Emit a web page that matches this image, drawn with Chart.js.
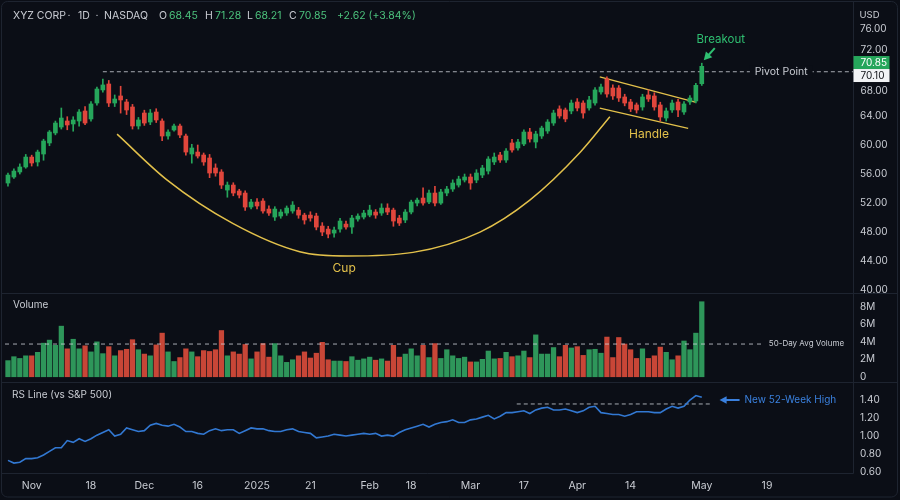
<!DOCTYPE html>
<html>
<head>
<meta charset="utf-8">
<title>XYZ CORP - Cup and Handle</title>
<script src="https://cdn.jsdelivr.net/npm/chart.js@4.4.1/dist/chart.umd.min.js"></script>
<style>
  html, body { margin: 0; padding: 0; background: #0b0e16; }
  #wrap { width: 900px; height: 500px; }
</style>
</head>
<body>
<div id="wrap"><canvas id="chart" width="900" height="500"></canvas></div>
<script>
// daily candles, Nov -> May
const opens = [
  54.76, 55.59, 56.28, 56.97, 58.34, 57.66, 58.76, 60.28, 61.66, 62.48,
  63.31, 62.90, 63.31, 64.69, 63.59, 65.79, 67.59, 68.41, 65.79, 66.76,
  65.93, 65.24, 62.62, 64.41, 63.17, 64.55, 63.31, 61.24, 62.07, 62.62,
  61.24, 58.76, 59.03, 58.62, 58.21, 56.83, 56.28, 53.79, 54.48, 53.66,
  53.38, 51.45, 52.14, 52.28, 51.17, 50.07, 50.21, 50.62, 50.90, 51.03,
  50.34, 50.34, 50.21, 48.83, 48.41, 47.86, 48.41, 49.10, 48.69, 49.79,
  50.07, 50.34, 50.76, 50.62, 51.31, 51.03, 49.93, 49.66, 50.76, 52.00,
  52.69, 52.14, 53.38, 52.00, 53.38, 53.93, 54.48, 55.17, 55.59, 55.17,
  55.86, 56.41, 57.66, 58.62, 57.93, 60.28, 59.59, 60.14, 61.79, 60.41,
  61.24, 61.93, 63.03, 64.97, 64.83, 64.69, 65.93, 65.79, 65.10, 65.79,
  67.31, 69.10, 67.86, 67.86, 66.62, 65.93, 65.52, 65.24, 66.90, 66.76,
  65.52, 63.72, 64.83, 65.93, 64.55, 65.93, 66.07, 68.45
];
const highs = [
  56.14, 56.70, 57.40, 58.70, 58.60, 59.30, 60.80, 62.00, 63.30, 65.10,
  63.90, 63.90, 64.90, 65.30, 66.00, 68.00, 69.10, 68.90, 66.90, 68.10,
  66.30, 65.60, 63.80, 64.80, 64.90, 65.00, 63.60, 62.10, 62.90, 62.90,
  61.50, 60.10, 60.00, 58.90, 58.70, 57.40, 56.60, 54.90, 54.80, 53.90,
  53.70, 52.50, 52.60, 52.60, 51.60, 51.50, 51.10, 51.60, 52.20, 51.40,
  50.60, 50.80, 50.60, 49.30, 48.80, 48.70, 49.90, 49.50, 50.30, 50.50,
  51.00, 51.70, 51.10, 51.90, 51.90, 51.30, 50.30, 51.10, 52.40, 52.70,
  54.10, 53.80, 54.30, 53.90, 54.30, 55.20, 55.70, 56.00, 56.00, 56.60,
  57.20, 58.40, 58.90, 59.00, 59.50, 60.80, 60.80, 62.10, 62.30, 61.90,
  62.60, 63.50, 64.80, 65.40, 65.10, 66.20, 66.40, 66.10, 66.70, 67.90,
  68.40, 69.40, 68.30, 68.20, 67.00, 66.30, 65.80, 67.00, 67.60, 67.20,
  65.90, 65.10, 66.20, 66.30, 66.00, 66.80, 68.50, 71.28
];
const lows = [
  54.34, 55.40, 56.00, 56.80, 57.10, 57.10, 57.90, 59.90, 61.40, 62.20,
  62.10, 61.90, 62.60, 62.80, 63.30, 65.50, 67.30, 65.30, 65.30, 64.40,
  64.20, 62.20, 62.20, 62.70, 62.80, 63.10, 60.60, 60.80, 61.90, 61.00,
  58.60, 57.50, 58.20, 57.20, 55.50, 55.70, 54.00, 52.80, 53.00, 52.70,
  51.00, 51.20, 51.20, 50.60, 50.30, 49.60, 49.90, 50.30, 50.60, 49.90,
  49.10, 49.50, 48.30, 47.50, 47.20, 47.30, 48.00, 48.40, 47.80, 49.50,
  49.80, 50.10, 49.90, 50.30, 50.40, 48.80, 48.90, 49.30, 50.50, 51.60,
  51.70, 51.90, 51.60, 51.80, 53.00, 53.60, 54.20, 54.90, 53.90, 54.80,
  55.50, 56.00, 57.30, 57.60, 57.60, 59.00, 59.30, 59.90, 60.40, 59.60,
  60.90, 61.60, 62.70, 63.70, 63.20, 64.30, 64.70, 63.70, 64.80, 65.50,
  67.00, 66.60, 66.30, 66.00, 65.40, 64.60, 64.40, 64.80, 66.00, 64.80,
  63.30, 63.30, 64.50, 63.90, 64.20, 65.60, 65.80, 68.21
];
const closes = [
  55.86, 56.41, 56.97, 58.34, 57.52, 59.03, 60.55, 61.79, 63.03, 63.72,
  62.76, 63.45, 64.55, 63.03, 65.66, 67.72, 68.28, 65.79, 66.34, 66.21,
  64.83, 62.62, 63.45, 63.03, 64.41, 63.45, 61.24, 61.79, 62.62, 61.38,
  59.03, 59.59, 58.48, 57.66, 56.14, 56.14, 54.48, 54.48, 53.38, 53.10,
  51.45, 52.14, 51.59, 50.90, 50.62, 51.17, 50.76, 51.31, 51.72, 50.34,
  49.66, 49.93, 48.69, 48.00, 47.72, 48.28, 49.52, 48.69, 49.93, 50.21,
  50.62, 51.03, 50.34, 51.31, 50.76, 49.52, 49.24, 50.76, 52.14, 52.41,
  52.00, 53.38, 52.00, 53.52, 53.93, 54.76, 55.31, 55.59, 54.76, 56.14,
  56.83, 58.07, 58.34, 57.93, 59.17, 59.31, 60.41, 61.79, 60.83, 61.52,
  62.34, 63.17, 64.41, 64.00, 63.59, 65.79, 65.10, 64.41, 66.21, 67.59,
  68.00, 67.03, 66.76, 66.48, 65.79, 64.97, 64.83, 66.62, 66.34, 65.24,
  63.86, 64.69, 65.79, 64.83, 65.66, 66.48, 68.23, 70.85
];
// volume in millions of shares
const volumes = [
  1.85, 2.30, 2.10, 2.40, 2.40, 2.80, 3.85, 4.20, 3.60, 5.80,
  3.20, 4.30, 3.20, 3.55, 2.85, 4.00, 2.65, 3.45, 2.40, 3.00,
  3.15, 4.25, 3.10, 2.60, 2.40, 3.65, 5.00, 2.85, 1.75, 2.20,
  3.20, 2.85, 2.30, 3.00, 2.90, 3.10, 5.30, 2.40, 2.85, 2.60,
  3.70, 2.05, 2.85, 3.80, 2.25, 3.80, 2.40, 1.65, 1.95, 2.40,
  2.85, 2.15, 2.70, 3.95, 1.95, 1.80, 1.80, 1.75, 2.30, 1.90,
  2.05, 2.25, 1.90, 2.05, 1.80, 3.60, 2.25, 2.60, 3.20, 2.40,
  3.60, 2.20, 3.80, 2.10, 3.10, 2.40, 2.10, 2.25, 1.70, 1.70,
  2.00, 2.95, 2.05, 2.10, 2.80, 2.30, 2.40, 2.95, 2.20, 4.80,
  2.60, 2.60, 3.35, 2.30, 3.60, 3.30, 3.45, 2.45, 3.10, 3.15,
  2.70, 4.55, 2.20, 4.50, 3.75, 3.10, 2.10, 3.20, 2.10, 2.40,
  3.40, 2.80, 1.95, 2.40, 4.10, 3.10, 5.00, 8.60
];
// relative strength vs S&P 500
const rsLine = [
  0.73, 0.70, 0.71, 0.75, 0.75, 0.76, 0.79, 0.83, 0.87, 0.87,
  0.95, 0.93, 0.97, 0.94, 0.97, 1.01, 1.04, 1.07, 1.00, 1.02,
  1.09, 1.07, 1.05, 1.06, 1.12, 1.14, 1.12, 1.11, 1.13, 1.10,
  1.05, 1.05, 1.03, 1.02, 1.06, 1.08, 1.06, 1.07, 1.07, 1.03,
  1.06, 1.09, 1.08, 1.08, 1.06, 1.05, 1.05, 1.07, 1.08, 1.05,
  1.04, 1.03, 0.98, 0.99, 1.00, 1.02, 1.01, 1.00, 1.01, 1.02,
  1.03, 1.02, 1.03, 1.00, 1.01, 1.00, 1.04, 1.07, 1.09, 1.11,
  1.13, 1.10, 1.13, 1.15, 1.16, 1.18, 1.15, 1.15, 1.18, 1.19,
  1.21, 1.23, 1.19, 1.22, 1.26, 1.26, 1.27, 1.28, 1.25, 1.29,
  1.31, 1.32, 1.29, 1.29, 1.30, 1.28, 1.26, 1.28, 1.32, 1.33,
  1.26, 1.25, 1.24, 1.24, 1.22, 1.24, 1.27, 1.27, 1.27, 1.26,
  1.26, 1.30, 1.33, 1.31, 1.33, 1.40, 1.45, 1.43
];

// x axis: one slot per trading day, plus empty future slots
const lastSlot = 142.5;
const tickAt = [4, 14, 23, 32, 42, 51, 61, 68, 78, 87, 96, 105, 117, 128];
const tickText = ['Nov', '18', 'Dec', '16', '2025', '21', 'Feb', '18', 'Mar', '17', 'Apr', '14', 'May', '19'];
const priceTicks = [40, 44, 48, 52, 56, 60, 64, 68, 72, 76];
const volumeTicks = [0, 2, 4, 6, 8];
const rsTicks = [0.6, 0.8, 1.0, 1.2, 1.4];

// pattern annotations (day index, value)
const pivotPrice = 70.10;
const pivotSpan = [16, lastSlot];
const avgVolume = 3.75;
const avgSpan = [-0.5, 127.3];
const rsPrevHigh = 1.356;
const rsHighSpan = [85.8, 118.7];
const cupPoints = [[18.4, 61.5], [26.8, 55.2], [37.9, 49.2], [49.2, 45.3], [57.2, 44.7],
                   [68.3, 45.2], [79.6, 48.0], [88.0, 52.4], [96.5, 59.0], [101.5, 63.9]];
const handleUpper = [[99.8, 69.4], [115.9, 65.9]];
const handleLower = [[99.8, 65.1], [114.7, 62.3]];

const colors = {
    bg: '#0b0e16',
    frame: '#1e2430',
    text: '#c9ccd3',
    up: '#26a65b',
    down: '#e0463c',
    upVol: '#2e965a',
    downVol: '#c84637',
    quote: '#4cc27d',
    cup: '#e3c14b',
    breakout: '#2fbf71',
    rs: '#3278d2',
    rsText: '#3a80de',
    dash: 'rgba(206,210,218,0.8)',
};
const fontFamily = 'Inter, "Noto Sans", sans-serif';

const isUp = opens.map((o, i) => closes[i] >= o);
const pts = pairs => pairs.map(p => ({ x: p[0], y: p[1] }));

function text(ctx, str, x, y, color, size, align) {
    ctx.font = size + 'px ' + fontFamily;
    ctx.fillStyle = color;
    ctx.textAlign = align || 'left';
    ctx.textBaseline = 'middle';
    ctx.fillText(str, x, y);
}

function arrow(ctx, x1, y1, x2, y2, color, width, head) {
    const a = Math.atan2(y2 - y1, x2 - x1);
    ctx.strokeStyle = color;
    ctx.fillStyle = color;
    ctx.lineWidth = width;
    ctx.beginPath();
    ctx.moveTo(x1, y1);
    ctx.lineTo(x2 - Math.cos(a) * head * 0.6, y2 - Math.sin(a) * head * 0.6);
    ctx.stroke();
    ctx.beginPath();
    ctx.moveTo(x2, y2);
    ctx.lineTo(x2 - head * Math.cos(a - 0.5), y2 - head * Math.sin(a - 0.5));
    ctx.lineTo(x2 - head * Math.cos(a + 0.5), y2 - head * Math.sin(a + 0.5));
    ctx.closePath();
    ctx.fill();
}

function badge(ctx, str, left, cy, fill, color) {
    ctx.fillStyle = fill;
    ctx.fillRect(left, cy - 6.5, 36, 13);
    text(ctx, str, left + 7, cy + 0.5, color, 10);
}

// fixed-width right axes, no extra label padding so the panes line up
function fitRight(s) {
    s.width = 47;
    s.paddingTop = 0;
    s.paddingBottom = 0;
}

const decor = {
    id: 'decor',
    beforeDraw(chart) {
        const ctx = chart.ctx;
        ctx.save();
        ctx.fillStyle = colors.bg;
        ctx.fillRect(0, 0, chart.width, chart.height);
        ctx.restore();
    },
    afterDraw(chart) {
        const { ctx, chartArea, scales } = chart;
        const x = scales.x, price = scales.price, vol = scales.volume, rs = scales.rs;
        const right = Math.round(chartArea.right) + 0.5;
        const last = closes.length - 1;
        ctx.save();

        // frame and pane dividers
        ctx.strokeStyle = colors.frame;
        ctx.lineWidth = 1;
        ctx.beginPath();
        ctx.roundRect(1.5, 1.5, 896, 495.5, 6);
        ctx.moveTo(2, Math.round(vol.top) + 0.5); ctx.lineTo(898, Math.round(vol.top) + 0.5);
        ctx.moveTo(2, Math.round(rs.top) + 0.5); ctx.lineTo(898, Math.round(rs.top) + 0.5);
        ctx.moveTo(2, Math.round(rs.bottom) + 0.5); ctx.lineTo(right, Math.round(rs.bottom) + 0.5);
        ctx.moveTo(right, 2); ctx.lineTo(right, Math.round(rs.bottom) + 0.5);
        ctx.stroke();

        // header quote
        const f = v => v.toFixed(2);
        const chg = closes[last] - closes[last - 1];
        const pct = chg / closes[last - 1] * 100;
        const hy = 16;
        text(ctx, 'XYZ CORP', 13, hy, colors.text, 10.5);
        text(ctx, '·', 69, hy, colors.text, 10.5, 'center');
        text(ctx, '1D', 78, hy, colors.text, 10.5);
        text(ctx, '·', 97, hy, colors.text, 10.5, 'center');
        text(ctx, 'NASDAQ', 104, hy, colors.text, 10.5);
        text(ctx, 'O', 159, hy, colors.text, 10.5);
        text(ctx, f(opens[last]), 169, hy, colors.quote, 10.5);
        text(ctx, 'H', 205, hy, colors.text, 10.5);
        text(ctx, f(highs[last]), 215, hy, colors.quote, 10.5);
        text(ctx, 'L', 247, hy, colors.text, 10.5);
        text(ctx, f(lows[last]), 255, hy, colors.quote, 10.5);
        text(ctx, 'C', 289, hy, colors.text, 10.5);
        text(ctx, f(closes[last]), 299, hy, colors.quote, 10.5);
        text(ctx, (chg >= 0 ? '+' : '') + f(chg) + ' (' + (pct >= 0 ? '+' : '') + f(pct) + '%)', 337, hy, colors.quote, 10.5);

        // pane titles
        text(ctx, 'USD', right + 6, 15, colors.text, 9.5);
        text(ctx, 'Volume', 13, vol.top + 12, colors.text, 10);
        text(ctx, 'RS Line (vs S&P 500)', 12, rs.top + 13, colors.text, 10);

        // pivot label with a gap in the dashed line
        const pivotY = price.getPixelForValue(pivotPrice);
        ctx.font = '10.5px ' + fontFamily;
        const pw = ctx.measureText('Pivot Point').width;
        const pcx = x.getPixelForValue(130.4);
        ctx.fillStyle = colors.bg;
        ctx.fillRect(pcx - pw / 2 - 5, pivotY - 6, pw + 10, 12);
        text(ctx, 'Pivot Point', pcx, pivotY, colors.text, 10.5, 'center');

        // price badges, pushed apart when they collide
        let closeY = price.getPixelForValue(closes[last]);
        let pivY = pivotY;
        if (Math.abs(closeY - pivY) < 13) {
            const mid = (closeY + pivY) / 2;
            closeY = mid - 6.5;
            pivY = mid + 6.5;
        }
        badge(ctx, f(closes[last]), right, closeY, colors.up, '#ffffff');
        badge(ctx, f(pivotPrice), right, pivY, '#f2f3f5', '#111318');
        // tick labels that sit under the badges are nudged away
        text(ctx, '72.00', right + 7, price.getPixelForValue(72) - 8, colors.text, 10);
        text(ctx, '68.00', right + 7, price.getPixelForValue(68) + 4, colors.text, 10);

        // pattern labels
        text(ctx, 'Cup', x.getPixelForValue(56.7), price.getPixelForValue(43.0), colors.cup, 12, 'center');
        text(ctx, 'Handle', x.getPixelForValue(108.1), price.getPixelForValue(61.5), colors.cup, 12, 'center');

        const bx = x.getPixelForValue(last);
        const by = price.getPixelForValue(highs[last]);
        arrow(ctx, bx + 13, by - 15, bx + 2, by - 3, colors.breakout, 2, 9);
        text(ctx, 'Breakout', bx + 19, by - 24, colors.breakout, 11.5, 'center');

        const avgY = vol.getPixelForValue(avgVolume);
        text(ctx, '50-Day Avg Volume', x.getPixelForValue(avgSpan[1]) + 6, avgY, colors.text, 8);

        const ny = rs.getPixelForValue(1.40);
        const nx = x.getPixelForValue(120);
        arrow(ctx, nx + 20, ny, nx, ny, colors.rsText, 2, 8);
        text(ctx, 'New 52-Week High', nx + 25, ny, colors.rsText, 10);

        ctx.restore();
    }
};

new Chart(document.getElementById('chart'), {
    type: 'bar',
    data: {
        datasets: [
            {
                label: 'Body',
                data: opens.map((o, i) => ({ x: i, y: [o, closes[i]] })),
                backgroundColor: isUp.map(u => u ? colors.up : colors.down),
                yAxisID: 'price',
                barThickness: 4,
                minBarLength: 1,
                grouped: false,
                order: 1,
            },
            {
                label: 'Wick',
                data: lows.map((l, i) => ({ x: i, y: [l, highs[i]] })),
                backgroundColor: isUp.map(u => u ? colors.up : colors.down),
                yAxisID: 'price',
                barThickness: 1,
                grouped: false,
                order: 2,
            },
            {
                label: 'Volume',
                data: volumes.map((v, i) => ({ x: i, y: v })),
                backgroundColor: isUp.map(u => u ? colors.upVol : colors.downVol),
                yAxisID: 'volume',
                barThickness: 4.6,
                grouped: false,
                order: 3,
            },
            {
                type: 'line',
                label: 'Cup',
                data: pts(cupPoints),
                yAxisID: 'price',
                borderColor: colors.cup,
                borderWidth: 1.5,
                cubicInterpolationMode: 'monotone',
                pointRadius: 0,
                order: 4,
            },
            {
                type: 'line',
                label: 'Handle upper',
                data: pts(handleUpper),
                yAxisID: 'price',
                borderColor: colors.cup,
                borderWidth: 1.3,
                pointRadius: 0,
                order: 4,
            },
            {
                type: 'line',
                label: 'Handle lower',
                data: pts(handleLower),
                yAxisID: 'price',
                borderColor: colors.cup,
                borderWidth: 1.3,
                pointRadius: 0,
                order: 4,
            },
            {
                type: 'line',
                label: 'Pivot',
                data: pivotSpan.map(v => ({ x: v, y: pivotPrice })),
                yAxisID: 'price',
                borderColor: colors.dash,
                borderWidth: 1,
                borderDash: [4, 3],
                pointRadius: 0,
                order: 5,
            },
            {
                type: 'line',
                label: '50-Day Avg Volume',
                data: avgSpan.map(v => ({ x: v, y: avgVolume })),
                yAxisID: 'volume',
                borderColor: colors.dash,
                borderWidth: 1,
                borderDash: [4, 4],
                pointRadius: 0,
                order: 0,
            },
            {
                type: 'line',
                label: 'RS Line',
                data: rsLine.map((v, i) => ({ x: i, y: v })),
                yAxisID: 'rs',
                borderColor: colors.rs,
                borderWidth: 1.6,
                pointRadius: 0,
                order: 1,
            },
            {
                type: 'line',
                label: 'RS prior high',
                data: rsHighSpan.map(v => ({ x: v, y: rsPrevHigh })),
                yAxisID: 'rs',
                borderColor: colors.dash,
                borderWidth: 1,
                borderDash: [4, 3],
                pointRadius: 0,
                order: 2,
            },
        ]
    },
    options: {
        responsive: false,
        animation: false,
        events: [],
        devicePixelRatio: 1,
        layout: { padding: { left: 5, top: 5, right: 0, bottom: 3 } },
        plugins: {
            legend: { display: false },
            tooltip: { enabled: false },
        },
        scales: {
            x: {
                type: 'linear',
                min: -0.5,
                max: lastSlot,
                offset: false,
                grid: { display: false, drawTicks: false },
                border: { display: false },
                afterBuildTicks: s => { s.ticks = tickAt.map(v => ({ value: v })); },
                afterFit: s => { s.height = 24; s.paddingLeft = 0; s.paddingRight = 0; },
                ticks: {
                    autoSkip: false,
                    maxRotation: 0,
                    padding: 7,
                    color: colors.text,
                    font: { family: fontFamily, size: 10.5 },
                    callback: v => tickText[tickAt.indexOf(v)],
                },
            },
            price: {
                type: 'linear',
                position: 'right',
                stack: 'panes',
                stackWeight: 288,
                min: 39.6,
                max: 79.3,
                beginAtZero: false,
                grid: { display: false, drawTicks: false },
                border: { display: false },
                afterBuildTicks: s => { s.ticks = priceTicks.map(v => ({ value: v })); },
                afterFit: fitRight,
                ticks: {
                    autoSkip: false,
                    padding: 7,
                    color: colors.text,
                    font: { family: fontFamily, size: 10 },
                    callback: v => (v === 72 || v === 68) ? '' : v.toFixed(2),
                },
            },
            volume: {
                type: 'linear',
                position: 'right',
                stack: 'panes',
                stackWeight: 89,
                min: -0.6,
                max: 9.6,
                beginAtZero: false,
                grid: { display: false, drawTicks: false },
                border: { display: false },
                afterBuildTicks: s => { s.ticks = volumeTicks.map(v => ({ value: v })); },
                afterFit: fitRight,
                ticks: {
                    autoSkip: false,
                    padding: 7,
                    color: colors.text,
                    font: { family: fontFamily, size: 10 },
                    callback: v => v === 0 ? '0' : v + 'M',
                },
            },
            rs: {
                type: 'linear',
                position: 'right',
                stack: 'panes',
                stackWeight: 91,
                min: 0.59,
                max: 1.60,
                beginAtZero: false,
                grid: { display: false, drawTicks: false },
                border: { display: false },
                afterBuildTicks: s => { s.ticks = rsTicks.map(v => ({ value: v })); },
                afterFit: fitRight,
                ticks: {
                    autoSkip: false,
                    padding: 7,
                    color: colors.text,
                    font: { family: fontFamily, size: 10 },
                    callback: v => v.toFixed(2),
                },
            },
        }
    },
    plugins: [decor]
});
</script>
</body>
</html>
